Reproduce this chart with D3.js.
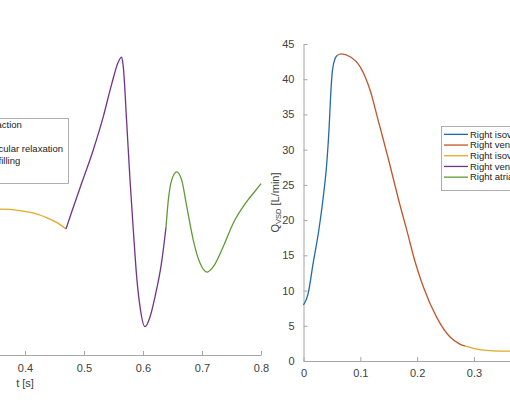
<!DOCTYPE html>
<html>
<head>
<meta charset="utf-8">
<script src="https://cdn.jsdelivr.net/npm/d3@7"></script>
<style>
  body { margin: 0; background: #fff; }
  svg { display: block; }
  text { font-family: "Liberation Sans", Arial, sans-serif; }
</style>
</head>
<body>
<svg id="chart" width="510" height="402"></svg>
<script>
// cardiac phases, same order in both legends
const phaseLabels = [
  'Right isovolumetric contraction',
  'Right ventricular ejection',
  'Right isovolumetric ventricular relaxation',
  'Right ventricular passive filling',
  'Right atrial contraction'
]
const phaseColors = ['#1f6aa8', '#c0562a', '#e0aa2a', '#70338a', '#5f9a35']

const xTicks = [0, 0.1, 0.2, 0.3, 0.4, 0.5, 0.6, 0.7, 0.8]
const yTicks = [0, 5, 10, 15, 20, 25, 30, 35, 40, 45]

// left panel, [t, value]
const leftRelax = [[0.345, 21.1], [0.3576, 21.1], [0.3915, 20.9], [0.4136, 20.55], [0.4373, 19.85], [0.4542, 19.15], [0.4695, 18.25]]
const leftFill = [[0.4695, 18.25], [0.4797, 20.84], [0.4932, 24.17], [0.5158, 29.7], [0.5327, 34.5], [0.5469, 39.2], [0.5581, 42.4],
  [0.5639, 43.1], [0.5666, 41.7], [0.5724, 33.6], [0.578, 25.3], [0.5836, 18.1], [0.5893, 11.3], [0.5949, 7.0], [0.6034, 4.1],
  [0.6119, 5.5], [0.6203, 8.4], [0.6317, 13.5], [0.639, 18.5]]
const leftAtrial = [[0.639, 18.5], [0.6429, 22.4], [0.6486, 25.3], [0.6571, 26.5], [0.6656, 25.3], [0.6741, 21.5], [0.6853, 16.6],
  [0.6966, 13.3], [0.708, 12.0], [0.7192, 12.8], [0.7361, 15.7], [0.7531, 19.1], [0.7758, 22.2], [0.7983, 24.6], [0.8, 24.8]]

// right panel, Q_VSD [L/min]
const rightContr = [[0, 7.95], [0.008, 9.5], [0.017, 13.9], [0.027, 18.6], [0.0345, 23.1], [0.041, 28.1], [0.045, 33],
  [0.048, 38], [0.051, 41.3], [0.056, 43.0], [0.06, 43.4]]
const rightEject = [[0.06, 43.4], [0.066, 43.6], [0.082, 43.2], [0.0995, 41.8], [0.117, 38.5], [0.132, 34.0], [0.15, 28.5],
  [0.167, 23.0], [0.182, 18.5], [0.196, 14.2], [0.211, 10.5], [0.2345, 6.2], [0.258, 3.4], [0.275, 2.4], [0.285, 2.1]]
const rightRelax = [[0.285, 2.1], [0.299, 1.8], [0.322, 1.5], [0.345, 1.4], [0.37, 1.4]]

const leftSeries = [
  { data: leftRelax, phase: 2 },
  { data: leftFill, phase: 3 },
  { data: leftAtrial, phase: 4 }
]
const rightSeries = [
  { data: rightContr, phase: 0 },
  { data: rightEject, phase: 1 },
  { data: rightRelax, phase: 2 }
]

const axisColor = '#a6a6a6'
const textColor = '#404040'
const width = 510

const svg = d3.select('#chart')

const xLeft = d3.scaleLinear().domain([0, 0.8]).range([-211, 261])
const yLeft = d3.scaleLinear().domain([0, 45]).range([355, 44])
const xRight = d3.scaleLinear().domain([0, 0.8]).range([303.5, 758])
const yRight = d3.scaleLinear().domain([0, 45]).range([361, 44])

function styleAxis (g) {
  g.select('.domain').attr('stroke', axisColor)
  g.selectAll('.tick line').attr('stroke', axisColor)
  g.selectAll('.tick text').attr('fill', textColor).style('font-size', '11px')
}

function drawLines (g, series, x, y) {
  const line = d3.line()
    .x(function (d) { return x(d[0]) })
    .y(function (d) { return y(d[1]) })
    .curve(d3.curveMonotoneX)
  g.selectAll('path.series')
    .data(series)
    .enter()
    .append('path')
    .attr('class', 'series')
    .attr('fill', 'none')
    .attr('stroke-width', 1.3)
    .attr('stroke', function (d) { return phaseColors[d.phase] })
    .attr('d', function (d) { return line(d.data) })
}

// only the ticks that fall inside the window get drawn
function visibleTicks (x) {
  return xTicks.filter(function (t) { return x(t) >= 0 && x(t) <= width })
}

// left panel
const left = svg.append('g')
left.append('g')
  .attr('transform', 'translate(0,' + yLeft(0) + ')')
  .call(d3.axisBottom(xLeft).tickValues(visibleTicks(xLeft)).tickFormat(String).tickSize(-4).tickSizeOuter(0).tickPadding(9))
  .call(styleAxis)
left.append('text')
  .attr('x', xLeft(0.4))
  .attr('y', 387)
  .attr('text-anchor', 'middle')
  .attr('fill', textColor)
  .style('font-size', '11px')
  .text('t [s]')
drawLines(left, leftSeries, xLeft, yLeft)

// right panel
const right = svg.append('g')
right.append('g')
  .attr('transform', 'translate(0,' + yRight(0) + ')')
  .call(d3.axisBottom(xRight).tickValues(visibleTicks(xRight)).tickFormat(String).tickSize(-4).tickSizeOuter(0).tickPadding(8))
  .call(styleAxis)
right.append('g')
  .attr('transform', 'translate(' + xRight(0) + ',0)')
  .call(d3.axisLeft(yRight).tickValues(yTicks).tickFormat(String).tickSize(-4).tickSizeOuter(0).tickPadding(9))
  .call(styleAxis)
const ylab = right.append('text')
  .attr('transform', 'translate(279,' + ((yRight(0) + yRight(45)) / 2) + ') rotate(-90)')
  .attr('text-anchor', 'middle')
  .attr('fill', textColor)
  .style('font-size', '11px')
ylab.append('tspan').text('Q')
ylab.append('tspan').attr('dy', 2).style('font-size', '7.5px').text('VSD')
ylab.append('tspan').attr('dy', -2).text(' [L/min]')
drawLines(right, rightSeries, xRight, yRight)

// legends: anchor is either the box's right edge or its left edge
function drawLegend (opts) {
  const g = svg.append('g')
  const rows = phaseLabels.map(function (label, i) { return { label: label, color: phaseColors[i], i: i } })
  const texts = g.selectAll('text')
    .data(rows)
    .enter()
    .append('text')
    .attr('fill', '#222')
    .style('font-size', '9.5px')
    .attr('dy', '.35em')
    .text(function (d) { return d.label })
  let maxW = 0
  texts.each(function () { maxW = Math.max(maxW, this.getComputedTextLength()) })
  const lineW = 24
  const boxW = 3 + lineW + 2 + maxW + 5
  const boxX = opts.right !== undefined ? opts.right - boxW : opts.left
  const boxH = opts.rowH * rows.length + opts.padTop + opts.padBottom
  const rowY = function (d) { return opts.top + opts.padTop + opts.rowH * (d.i + 0.5) }
  g.insert('rect', 'text')
    .attr('x', boxX + 0.5)
    .attr('y', opts.top + 0.5)
    .attr('width', boxW)
    .attr('height', boxH)
    .attr('fill', '#fff')
    .attr('stroke', '#9a9a9a')
    .attr('stroke-width', 0.8)
  texts
    .attr('x', boxX + 3 + lineW + 2)
    .attr('y', rowY)
  g.selectAll('line')
    .data(rows)
    .enter()
    .append('line')
    .attr('x1', boxX + 3)
    .attr('x2', boxX + 3 + lineW)
    .attr('y1', rowY)
    .attr('y2', rowY)
    .attr('stroke', function (d) { return d.color })
    .attr('stroke-width', 1.3)
}

drawLegend({ right: 68, top: 118, rowH: 12, padTop: 1, padBottom: 4 })
drawLegend({ left: 441, top: 126, rowH: 10.7, padTop: 3, padBottom: 7.5 })
</script>
</body>
</html>
